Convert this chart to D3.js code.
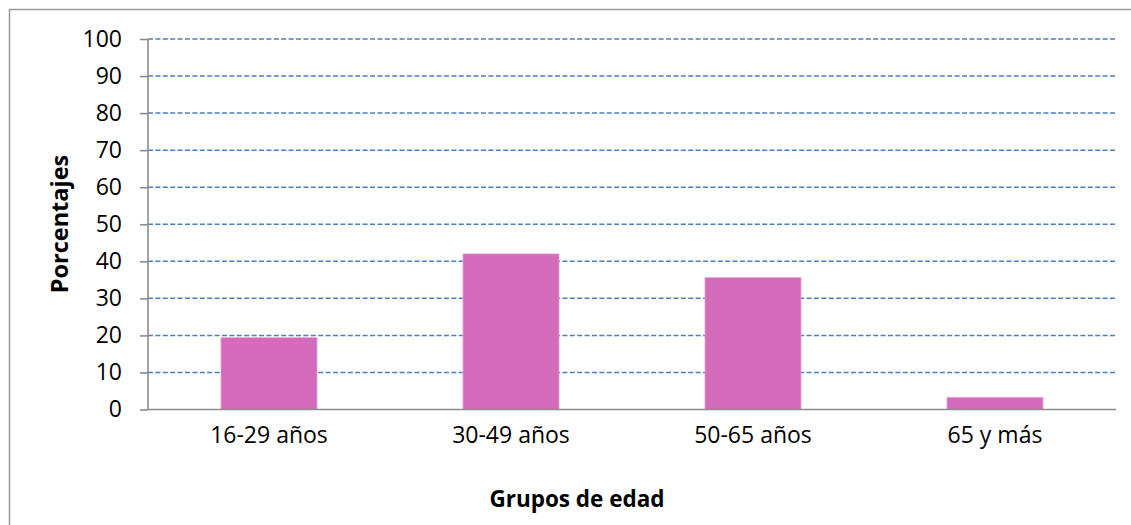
<!DOCTYPE html>
<html>
<head>
<meta charset="utf-8">
<script src="https://cdn.jsdelivr.net/npm/d3@7"></script>
<style>
  body { margin: 0; background: #fff; }
  svg { display: block; font-family: "Open Sans", sans-serif; }
</style>
</head>
<body>
<div id="chart"></div>
<script>
const categories = ["16-29 años", "30-49 años", "50-65 años", "65 y más"];
const values = [19.4, 42.0, 35.6, 3.3];
const yTicks = [0, 10, 20, 30, 40, 50, 60, 70, 80, 90, 100];
const xTitle = "Grupos de edad";
const yTitle = "Porcentajes";

const width = 1131,
  height = 525,
  margin = { top: 39, right: 15, bottom: 115.5, left: 148 };

const
  xMax = width - margin.left - margin.right,
  yMax = height - margin.top - margin.bottom,

  scaleX = d3.scaleBand().domain(categories).range([0, xMax])
    .paddingInner(0.603).paddingOuter(0.3015),
  scaleY = d3.scaleLinear().domain([0, 100]).range([yMax, 0]);

const svg = d3.select("#chart").append("svg")
  .attr("width", width)
  .attr("height", height);

// outer frame (right and bottom sides fall outside the picture)
svg.append("rect")
  .attr("x", 9.5).attr("y", 9.5)
  .attr("width", width + 20).attr("height", height + 20)
  .attr("fill", "none")
  .attr("stroke", "#9a9a9a")
  .attr("stroke-width", 1.5);

const chart = svg.append("g")
  .attr("transform", `translate(${margin.left}, ${margin.top})`);

// dashed grid
chart.append("g")
  .selectAll("line")
  .data(yTicks.filter(d => d !== 0)).enter().append("line")
  .attr("x1", 0)
  .attr("x2", xMax)
  .attr("y1", d => scaleY(d))
  .attr("y2", d => scaleY(d))
  .attr("stroke", "#4a7ebf")
  .attr("stroke-width", 1.5)
  .attr("stroke-dasharray", "5,2.4");

// bars
chart.append("g")
  .selectAll("rect")
  .data(values).enter().append("rect")
  .attr("x", (d, i) => scaleX(categories[i]))
  .attr("width", scaleX.bandwidth())
  .attr("y", d => scaleY(d))
  .attr("height", d => yMax - scaleY(d))
  .attr("fill", "#d36bba")
  .attr("stroke", "#eaa8dc")
  .attr("stroke-width", 0.8);

// y axis
const yAxis = chart.append("g")
  .call(d3.axisLeft(scaleY).tickValues(yTicks).tickSize(8).tickPadding(18));
yAxis.select(".domain").attr("stroke", "#8c8c8c").attr("stroke-width", 1.6)
  .attr("d", `M0,${yMax}V0`);
yAxis.selectAll(".tick line").attr("stroke", "#8c8c8c").attr("stroke-width", 1.6);
yAxis.selectAll(".tick text")
  .attr("font-size", 23).attr("fill", "#000").attr("font-family", "Open Sans");

// x axis
const xAxis = chart.append("g")
  .attr("transform", `translate(0, ${yMax})`)
  .call(d3.axisBottom(scaleX).tickSize(0).tickPadding(17.5));
xAxis.select(".domain").attr("stroke", "#8c8c8c").attr("stroke-width", 1.6)
  .attr("d", `M0,0H${xMax}`);
xAxis.selectAll(".tick text")
  .attr("font-size", 23).attr("fill", "#000").attr("font-family", "Open Sans");

// titles
svg.append("text")
  .attr("x", 577).attr("y", 507)
  .attr("text-anchor", "middle")
  .attr("font-size", 22.5).attr("font-weight", "bold")
  .text(xTitle);

svg.append("text")
  .attr("transform", "translate(68, 224) rotate(-90)")
  .attr("text-anchor", "middle")
  .attr("font-size", 23.5).attr("font-weight", "bold")
  .text(yTitle);
</script>
</body>
</html>
